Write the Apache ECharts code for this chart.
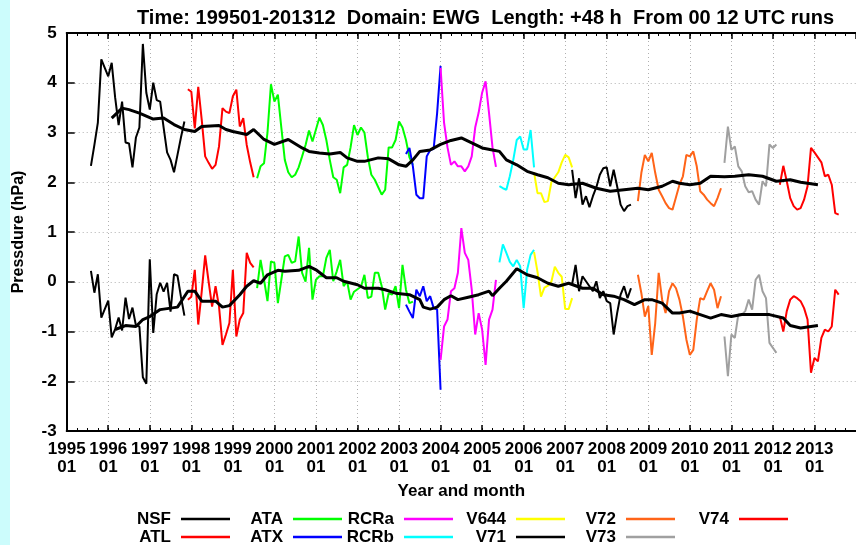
<!DOCTYPE html>
<html>
<head>
<meta charset="utf-8">
<script src="https://cdn.jsdelivr.net/npm/echarts@6/dist/echarts.min.js"></script>
<style>
  html, body { margin: 0; padding: 0; background: #fff; }
  #chart { width: 856px; height: 545px; }
</style>
</head>
<body>
<div id="chart"></div>
<script>
// Month index: 0 = 1995-01
const yearLabels = ['1995','1996','1997','1998','1999','2000','2001','2002','2003','2004',
                    '2005','2006','2007','2008','2009','2010','2011','2012','2013'];
const monthLabel = '01';

// Monthly scores per model version: stdv (upper curve) and bias (lower curve)
const nsfStart = 7;
const nsfStdv = [2.33, 2.75, 3.2, 4.47, 4.3, 4.13, 4.4, 3.7, 3.15, 3.62, 2.8, 2.78, 2.3, 2.9, 3.1, 4.78, 3.8, 3.46, 4.0, 3.65, 3.62, 3.1, 2.6, 2.45, 2.2, 2.55, 2.9, 3.22];
const nsfBias = [0.22, -0.22, 0.15, -0.72, -0.55, -0.38, -1.12, -0.95, -0.72, -0.98, -0.32, -0.75, -0.52, -0.88, -0.9, -1.92, -2.05, 0.45, -1.03, -0.25, -0.02, -0.2, -0.02, -0.6, 0.15, 0.12, -0.3, -0.68];

const atlStart = 35;
const atlStdv = [3.87, 3.82, 3.08, 3.92, 3.26, 2.52, 2.39, 2.27, 2.35, 2.72, 3.49, 3.42, 3.39, 3.73, 3.86, 3.12, 3.29, 2.75, 2.4, 2.1];
const atlBias = [-0.36, -0.3, 0.24, -0.86, -0.2, 0.53, 0.0, -0.5, -0.09, -0.5, -1.27, -1.06, -0.83, 0.24, -1.1, -0.76, -0.63, 0.58, 0.38, 0.29];

const ataStart = 55;
const ataStdv = [2.08, 2.32, 2.38, 3.0, 3.97, 3.62, 3.76, 3.1, 2.45, 2.2, 2.1, 2.15, 2.3, 2.52, 2.75, 3.04, 2.82, 3.06, 3.3, 3.15, 2.85, 2.45, 2.1, 2.05, 1.78, 2.3, 2.35, 2.7, 3.15, 2.95, 3.1, 3.0, 2.5, 2.15, 2.05, 1.9, 1.75, 1.85, 2.7, 2.7, 2.85, 3.22, 3.1, 2.85, 2.5, 2.35];
const ataBias = [-0.13, 0.44, 0.04, -0.39, 0.41, 0.38, -0.43, 0.04, 0.51, 0.54, 0.38, 0.41, 0.91, 0.18, 0.0, 0.68, -0.36, 0.04, 0.11, 0.11, 0.48, 0.64, 0.01, 0.21, 0.44, -0.09, 0.01, -0.36, -0.2, -0.15, -0.1, 0.14, -0.33, -0.3, 0.18, 0.18, -0.09, -0.56, -0.23, -0.26, -0.09, -0.53, 0.34, -0.16, -0.43, -0.4];

const atxStart = 98;
const atxStdv = [2.57, 2.69, 2.32, 1.75, 1.68, 1.68, 2.52, 2.65, 2.67, 3.39, 4.34];
const atxBias = [-0.46, -0.6, -0.73, -0.16, -0.29, -0.09, -0.39, -0.29, -0.53, -0.56, -2.17];

const rcraStart = 108;
const rcraStdv = [4.3, 3.2, 2.7, 2.35, 2.42, 2.32, 2.32, 2.22, 2.32, 2.52, 3.1, 3.4, 3.8, 4.03, 3.39, 2.7, 2.31];
const rcraBias = [-1.57, -0.9, -0.76, -0.19, -0.13, 0.18, 1.08, 0.58, 0.44, -0.16, -1.06, -0.63, -0.96, -1.67, -0.76, -0.56, 0.04];

const rcrbStart = 125;
const rcrbStdv = [1.92, 1.88, 1.85, 2.12, 2.45, 2.85, 2.92, 2.66, 2.66, 3.05, 2.3];
const rcrbBias = [0.39, 0.75, 0.58, 0.4, 0.31, 0.44, 0.31, -0.53, 0.24, 0.54, 0.64];

const v644Start = 135;
const v644Stdv = [2.2, 1.78, 1.78, 1.6, 1.62, 2.0, 2.1, 2.2, 2.4, 2.55, 2.5, 2.3];
const v644Bias = [0.6, 0.2, -0.3, -0.12, -0.08, 0.0, 0.3, 0.18, 0.1, -0.55, -0.55, -0.33];

const v71Start = 146;
const v71Stdv = [2.25, 1.68, 2.08, 1.55, 1.72, 1.5, 1.72, 1.9, 2.15, 2.28, 2.3, 1.92, 2.25, 1.92, 1.55, 1.42, 1.52, 1.55];
const v71Bias = [-0.05, 0.34, -0.19, 0.11, 0.01, -0.09, -0.19, 0.01, -0.33, -0.19, -0.39, -0.43, -1.06, -0.63, -0.26, -0.09, -0.33, -0.13];

const v72Start = 165;
const v72Stdv = [1.62, 2.19, 2.55, 2.42, 2.59, 2.19, 1.85, 1.72, 1.58, 1.48, 1.45, 1.7, 1.95, 2.12, 2.55, 2.52, 2.62, 2.32, 1.82, 1.75, 1.65, 1.58, 1.52, 1.68, 1.88];
const v72Bias = [0.14, -0.23, -0.7, -0.49, -1.47, -0.83, 0.18, -0.36, -0.63, -0.19, -0.03, -0.13, -0.36, -0.7, -1.16, -1.47, -1.37, -0.76, -0.33, -0.36, -0.19, -0.03, -0.16, -0.53, -0.29];

const v73Start = 190;
const v73Stdv = [2.39, 3.12, 2.65, 2.72, 2.32, 2.22, 1.92, 1.8, 1.82, 1.65, 1.55, 2.02, 1.92, 2.76, 2.69, 2.76];
const v73Bias = [-1.1, -1.9, -1.06, -1.13, -0.66, -0.66, -0.59, -0.36, -0.56, 0.04, 0.14, -0.19, -0.33, -1.23, -1.33, -1.43];

const v74Start = 206;
const v74Stdv = [1.95, 2.33, 2.02, 1.68, 1.52, 1.45, 1.48, 1.65, 1.92, 2.69, 2.6, 2.5, 2.4, 2.12, 2.15, 1.95, 1.38, 1.35];
const v74Bias = [-0.7, -1.0, -0.59, -0.36, -0.29, -0.33, -0.39, -0.53, -0.76, -1.83, -1.53, -1.6, -1.13, -0.96, -1.0, -0.9, -0.16, -0.26];

// Running means across all versions: [month, value]
const meanStdv = [[13,3.29],[16,3.49],[18,3.46],[21,3.39],[25,3.27],[28,3.29],[31,3.16],[34,3.06],[37,3.02],[39,3.12],[44,3.14],[46,3.06],[48,3.02],[52,2.96],[54,3.06],[57,2.86],[60,2.76],[64,2.86],[68,2.69],[70,2.62],[73,2.59],[76,2.57],[79,2.6],[81,2.49],[84,2.42],[86,2.42],[90,2.49],[93,2.47],[96,2.35],[98,2.32],[100,2.45],[102,2.62],[105,2.65],[108,2.76],[111,2.84],[114,2.89],[117,2.79],[120,2.69],[123,2.65],[125,2.62],[127,2.45],[130,2.35],[133,2.22],[136,2.15],[139,2.09],[142,1.98],[145,1.95],[149,1.98],[153,1.88],[157,1.82],[161,1.85],[165,1.88],[168,1.85],[172,1.92],[175,2.02],[177,1.98],[180,1.95],[183,1.98],[186,2.12],[190,2.11],[193,2.12],[197,2.15],[201,2.12],[205,2.02],[209,2.05],[212,2.0],[217,1.95]];
const meanBias = [[14,-0.96],[17,-0.88],[20,-0.9],[22,-0.76],[24,-0.7],[27,-0.56],[30,-0.53],[32,-0.51],[35,-0.19],[37,-0.19],[39,-0.39],[43,-0.39],[45,-0.51],[47,-0.48],[50,-0.26],[52,-0.09],[54,0.02],[56,-0.03],[58,0.14],[61,0.23],[63,0.21],[67,0.23],[70,0.31],[72,0.24],[75,0.08],[78,0.08],[80,0.01],[84,-0.06],[86,-0.13],[90,-0.13],[92,-0.16],[95,-0.23],[99,-0.26],[102,-0.36],[103,-0.51],[105,-0.55],[107,-0.51],[109,-0.36],[111,-0.28],[113,-0.36],[116,-0.31],[119,-0.26],[122,-0.19],[123,-0.28],[125,-0.13],[127,0.01],[130,0.26],[133,0.14],[136,0.08],[139,-0.03],[142,-0.09],[145,-0.03],[149,-0.13],[152,-0.13],[155,-0.26],[158,-0.29],[161,-0.36],[164,-0.46],[167,-0.36],[169,-0.36],[172,-0.43],[175,-0.63],[177,-0.63],[180,-0.59],[183,-0.66],[186,-0.73],[189,-0.66],[192,-0.7],[195,-0.66],[199,-0.66],[203,-0.66],[207,-0.73],[209,-0.88],[212,-0.93],[215,-0.9],[217,-0.88]];

const versions = [
  { name: 'NSF',  color: '#000000', start: nsfStart,  stdv: nsfStdv,  bias: nsfBias  },
  { name: 'ATL',  color: '#ff0000', start: atlStart,  stdv: atlStdv,  bias: atlBias  },
  { name: 'ATA',  color: '#00ff00', start: ataStart,  stdv: ataStdv,  bias: ataBias  },
  { name: 'ATX',  color: '#0000ff', start: atxStart,  stdv: atxStdv,  bias: atxBias  },
  { name: 'RCRa', color: '#ff00ff', start: rcraStart, stdv: rcraStdv, bias: rcraBias },
  { name: 'RCRb', color: '#00ffff', start: rcrbStart, stdv: rcrbStdv, bias: rcrbBias },
  { name: 'V644', color: '#ffff00', start: v644Start, stdv: v644Stdv, bias: v644Bias },
  { name: 'V71',  color: '#000000', start: v71Start,  stdv: v71Stdv,  bias: v71Bias  },
  { name: 'V72',  color: '#ff6418', start: v72Start,  stdv: v72Stdv,  bias: v72Bias  },
  { name: 'V73',  color: '#a0a0a0', start: v73Start,  stdv: v73Stdv,  bias: v73Bias  },
  { name: 'V74',  color: '#ff0000', start: v74Start,  stdv: v74Stdv,  bias: v74Bias  }
];

const FONT = '"Liberation Sans", Arial, Helvetica, sans-serif';
const textBase = { fontFamily: FONT, fontWeight: 'bold', color: '#000' };

const GRID = { left: 66.7, top: 33, width: 794.4, height: 398 };
const X_MIN = 0, X_MAX = 228;

const toPairs = (start, vals) => vals.map((v, i) => [start + i, v]);

const series = [];
versions.forEach(v => {
  ['stdv', 'bias'].forEach(k => {
    series.push({
      name: v.name, type: 'line', data: toPairs(v.start, v[k]),
      showSymbol: false, symbol: 'none', z: 2,
      lineStyle: { color: v.color, width: 2 }, itemStyle: { color: v.color }
    });
  });
});
[meanStdv, meanBias].forEach(d => {
  series.push({
    name: 'mean', type: 'line', data: d, showSymbol: false, symbol: 'none', z: 3,
    lineStyle: { color: '#000', width: 3 }
  });
});

// Legend: two rows, label right-aligned left of its line sample
const legendLineX = [181, 293, 404, 516, 626, 739];
const legendRowY = [519, 537];
const legendGraphics = [];
versions.forEach((v, i) => {
  const col = Math.floor(i / 2), row = i % 2;
  const x0 = legendLineX[col], y0 = legendRowY[row];
  legendGraphics.push({
    type: 'text', x: x0 - 10, y: y0,
    style: { text: v.name, fill: '#000', font: 'bold 17px ' + FONT,
             textAlign: 'right', textVerticalAlign: 'middle' }
  });
  legendGraphics.push({
    type: 'line', shape: { x1: x0, y1: y0, x2: x0 + 49, y2: y0 },
    style: { stroke: v.color, lineWidth: 2.5 }
  });
});

// Frame axes: yearly major ticks and quarterly minor ticks, top and bottom
function frameAxis(position, interval, tickLen, withLine) {
  return {
    type: 'value', min: X_MIN, max: X_MAX, interval: interval, position: position,
    axisLine: { show: withLine, onZero: false, lineStyle: { color: '#000', width: 2 } },
    axisTick: { show: true, inside: true, length: tickLen,
                lineStyle: { color: '#000', width: withLine ? 1.5 : 1 } },
    axisLabel: { show: false }, splitLine: { show: false }
  };
}

const bottomAxis = Object.assign(frameAxis('bottom', 12, 6, true), {
  axisLabel: {
    show: true, margin: 9, showMaxLabel: false,
    formatter: val => { const y = yearLabels[val / 12]; return y ? y + '\n' + monthLabel : ''; },
    fontFamily: FONT, fontWeight: 'bold', fontSize: 17, lineHeight: 18, color: '#000'
  },
  splitLine: { show: true, lineStyle: { color: '#b0b0b0', width: 1, type: [1, 3] } },
  name: 'Year and month', nameLocation: 'middle', nameGap: 52,
  nameTextStyle: Object.assign({}, textBase, { fontSize: 17 })
});

const chart = echarts.init(document.getElementById('chart'), null, { renderer: 'canvas' });
chart.setOption({
  animation: false,
  backgroundColor: '#fff',
  title: {
    text: 'Time: 199501-201312  Domain: EWG  Length: +48 h  From 00 12 UTC runs',
    left: 132, top: 3,
    textStyle: Object.assign({}, textBase, { fontSize: 20 })
  },
  grid: GRID,
  xAxis: [
    bottomAxis,
    frameAxis('bottom', 3, 3, false),
    frameAxis('top', 12, 6, true),
    frameAxis('top', 3, 3, false)
  ],
  yAxis: {
    type: 'value', min: -3, max: 5, interval: 1,
    axisLine: { show: true, lineStyle: { color: '#000', width: 2 } },
    axisTick: { show: true, inside: true, length: 8, lineStyle: { color: '#000', width: 1.5 } },
    axisLabel: { margin: 10, fontFamily: FONT, fontWeight: 'bold', fontSize: 17, color: '#000' },
    splitLine: { show: true, lineStyle: { color: '#b0b0b0', width: 1, type: [1, 3] } },
    name: 'Pressdure (hPa)', nameLocation: 'middle', nameGap: 40, nameRotate: 90,
    nameTextStyle: Object.assign({}, textBase, { fontSize: 16 })
  },
  series: series,
  graphic: [
    { type: 'rect', left: 0, top: 0, shape: { x: 0, y: 0, width: 10, height: 545 },
      style: { fill: '#ccfcfc' }, z: 100 }
  ].concat(legendGraphics)
});
</script>
</body>
</html>
